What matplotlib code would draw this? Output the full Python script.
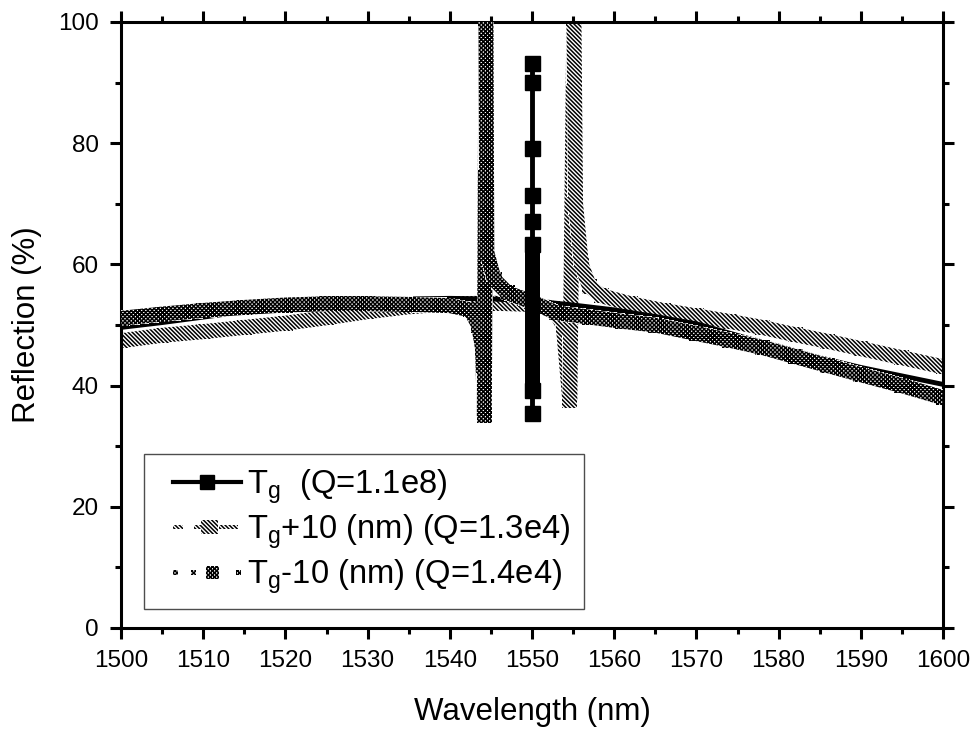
import matplotlib
matplotlib.use('Agg')
import matplotlib.pyplot as plt
import numpy as np
from matplotlib.collections import PatchCollection
from matplotlib.patches import Polygon, Rectangle
from matplotlib.lines import Line2D
from matplotlib.legend_handler import HandlerBase
from matplotlib.ticker import MultipleLocator

plt.rcParams['font.family'] = ['Liberation Sans', 'DejaVu Sans']
plt.rcParams['mathtext.fontset'] = 'custom'
plt.rcParams['mathtext.rm'] = 'Liberation Sans'
plt.rcParams['mathtext.it'] = 'Liberation Sans'
plt.rcParams['mathtext.default'] = 'regular'
plt.rcParams['hatch.linewidth'] = 1.1

# Tg (Q=1.1e8): background curve + resonance at 1550 nm
wl_g = [1500, 1505, 1510, 1515, 1520, 1525, 1530, 1535, 1540, 1545, 1550,
        1555, 1560, 1565, 1570, 1576, 1580, 1585, 1590, 1595, 1600]
R_g = [49.6, 50.4, 51.3, 52.2, 53.0, 53.6, 54.0, 54.3, 54.4, 54.3, 54.0,
       53.3, 52.5, 51.4, 50.2, 47.9, 46.5, 44.6, 43.0, 41.6, 40.2]
res_wl = 1550
res_R = [35.5, 39.2, 63.3, 67.2, 71.5, 79.2, 90.1, 93.2]

# Tg+10 nm (Q=1.3e4), diagonal pattern
wl_p10 = [1500, 1505, 1510, 1515, 1520, 1525, 1530, 1535, 1540, 1545, 1550,
          1552.5, 1553.8, 1554.6, 1555.1, 1555.3, 1556, 1557, 1558.5, 1562,
          1566, 1570, 1574, 1578, 1582, 1586, 1590, 1595, 1600]
R_p10 = [47.4, 48.3, 48.9, 49.6, 50.3, 51.2, 52.2, 53.0, 53.5, 53.6, 53.4,
         52.8, 50.0, 37.5, 100.5, 70.0, 60.0, 56.3, 54.8, 53.5,
         52.4, 51.5, 50.6, 49.6, 48.4, 47.3, 46.1, 44.6, 43.1]

# Tg-10 nm (Q=1.4e4), checkered pattern
wl_m10 = [1500, 1505, 1510, 1515, 1520, 1525, 1530, 1535, 1540, 1542.5,
          1543.5, 1544.0, 1544.2, 1544.4, 1544.5, 1545.4, 1547, 1550, 1553,
          1557, 1561, 1565, 1570, 1574, 1578, 1582, 1586, 1590, 1595, 1600]
R_m10 = [51.1, 51.8, 52.4, 52.9, 53.3, 53.5, 53.5, 53.4, 53.2, 52.5,
         50.0, 46.0, 35.0, 100.5, 62.0, 57.5, 55.3, 53.8, 52.0,
         51.3, 50.6, 50.0, 48.6, 47.5, 46.3, 44.8, 43.3, 41.8, 40.0, 38.0]

labels = ['T$_g$  (Q=1.1e8)', 'T$_g$+10 (nm) (Q=1.3e4)', 'T$_g$-10 (nm) (Q=1.4e4)']

HATCH_P = '\\' * 8
HATCH_M = 'x' * 8

PX = 72 / 100.0  # pixels -> points


def band(ax, x, y, w_px, hatch, z):
    # thick patterned line: each segment thickened in pixel space
    pts = ax.transData.transform(np.column_stack([x, y]))
    inv = ax.transData.inverted()
    h = w_px / 2.0
    polys = []
    for i in range(len(pts) - 1):
        p0, p1 = pts[i], pts[i + 1]
        d = p1 - p0
        n = np.array([-d[1], d[0]]) / np.hypot(d[0], d[1]) * h
        quad = np.array([p0 + n, p1 + n, p1 - n, p0 - n])
        polys.append(Polygon(inv.transform(quad), closed=True))
    for p in pts:
        sq = p + np.array([[-h, -h], [h, -h], [h, h], [-h, h]])
        polys.append(Polygon(inv.transform(sq), closed=True))
    pc = PatchCollection(polys, facecolor='white', edgecolor='black',
                         linewidth=0, hatch=hatch, zorder=z)
    pc.set_antialiased(False)
    ax.add_collection(pc)
    return pc


class OriginHandler(HandlerBase):
    # pieces: (x_start_px, x_end_px, height_px) inside the 68 px handle
    def __init__(self, hatch=None, pieces=None):
        super().__init__()
        self.hatch = hatch
        self.pieces = pieces

    def create_artists(self, legend, orig_handle, xdescent, ydescent,
                       width, height, fontsize, trans):
        x_right = -xdescent + width
        x0 = x_right - 68 * PX
        yc = height / 2.0 - ydescent
        arts = []
        if self.hatch is None:
            ln = Line2D([x0, x_right], [yc, yc], color='black', lw=3,
                        transform=trans)
            mk = Line2D([(x0 + x_right) / 2], [yc], color='black', marker='s',
                        ms=9.4, ls='none', transform=trans)
            return [ln, mk]
        for (a, b, hh) in self.pieces:
            r = Rectangle((x0 + a * PX, yc - hh * PX / 2), (b - a) * PX, hh * PX,
                          facecolor='white', edgecolor='black', linewidth=0,
                          hatch=self.hatch, transform=trans)
            arts.append(r)
        return arts


fig = plt.figure(figsize=(9.76, 7.33), dpi=100)
ax = fig.add_axes([121 / 976, 1 - 628 / 733, (943 - 121) / 976, (628 - 22) / 733])
ax.set_xlim(1500, 1600)
ax.set_ylim(0, 100)

pc_p = band(ax, wl_p10, R_p10, 15, HATCH_P, 2)
ln_g, = ax.plot(wl_g, R_g, color='black', lw=3.5, zorder=3)
pc_m = band(ax, wl_m10, R_m10, 15, HATCH_M, 4)

# Tg resonance: dense markers at 1550 nm
ax.plot([res_wl] * 2, [res_R[0], res_R[-1]], color='black', lw=3.5, zorder=6)
ax.plot([res_wl] * 2, [res_R[1], res_R[2]], color='black', lw=10.8,
        solid_capstyle='butt', zorder=6)
ax.plot([res_wl] * len(res_R), res_R, ls='none', marker='s', ms=10.8,
        color='black', zorder=6)

leg = ax.legend([ln_g, pc_p, pc_m], labels,
                handler_map={
                    ln_g: OriginHandler(),
                    pc_p: OriginHandler(HATCH_P, [(0, 10, 4), (21, 28, 4),
                                                  (28, 45, 14), (46, 65, 4)]),
                    pc_m: OriginHandler(HATCH_M, [(0, 5, 5), (18, 23, 5),
                                                  (33, 46, 13), (63, 68, 5)])},
                loc='lower left', bbox_to_anchor=(0.028, 0.031),
                borderaxespad=0, fontsize=23.6, handlelength=2.55,
                handletextpad=0.2, labelspacing=0.2, borderpad=0.4,
                fancybox=False, framealpha=1, edgecolor='0.3')
leg.get_frame().set_linewidth(1.0)
leg.set_zorder(10)

ax.xaxis.set_major_locator(MultipleLocator(10))
ax.xaxis.set_minor_locator(MultipleLocator(5))
ax.yaxis.set_major_locator(MultipleLocator(20))
ax.yaxis.set_minor_locator(MultipleLocator(10))
ax.tick_params(which='both', direction='out', top=True, right=True,
               width=2.2, labelsize=17.5, pad=8)
ax.tick_params(which='major', length=8)
ax.tick_params(which='minor', length=4.5)
for s in ax.spines.values():
    s.set_linewidth(2.2)

ax.set_xlabel('Wavelength (nm)', fontsize=22.5, labelpad=18)
ax.set_ylabel('Reflection (%)', fontsize=22.5, labelpad=11.5)

fig.savefig('out.png', dpi=100)
